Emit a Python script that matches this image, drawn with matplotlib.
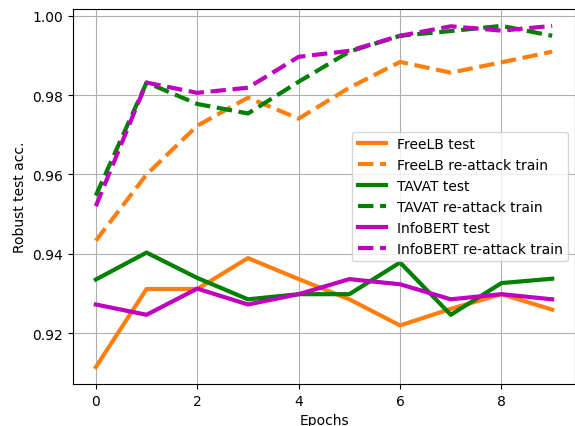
import matplotlib.pyplot as plt
import numpy as np

epochs = np.arange(10)

freelb_test = [0.9114, 0.9311, 0.9311, 0.9389, 0.9336, 0.9285, 0.9219, 0.9261, 0.9298, 0.9259]
freelb_train = [0.9433, 0.9600, 0.9723, 0.9794, 0.9741, 0.9819, 0.9884, 0.9857, 0.9883, 0.9910]
tavat_test = [0.9335, 0.9403, 0.9339, 0.9285, 0.9298, 0.9298, 0.9378, 0.9246, 0.9326, 0.9337]
tavat_train = [0.9547, 0.9832, 0.9778, 0.9754, 0.9834, 0.9910, 0.9950, 0.9962, 0.9975, 0.9950]
infobert_test = [0.9272, 0.9246, 0.9312, 0.9272, 0.9298, 0.9336, 0.9323, 0.9285, 0.9298, 0.9285]
infobert_train = [0.9520, 0.9832, 0.9806, 0.9819, 0.9897, 0.9912, 0.9950, 0.9974, 0.9963, 0.9975]

fig = plt.figure(figsize=(5.75, 4.27), dpi=100)
ax = fig.add_subplot(111)
fig.subplots_adjust(left=0.127, right=1.0, bottom=0.098, top=0.977)

lw = 3
ax.plot(epochs, freelb_test, '-', color='tab:orange', linewidth=lw, label='FreeLB test')
ax.plot(epochs, freelb_train, '--', color='tab:orange', linewidth=lw, label='FreeLB re-attack train')
ax.plot(epochs, tavat_test, '-', color='g', linewidth=lw, label='TAVAT test')
ax.plot(epochs, tavat_train, '--', color='g', linewidth=lw, label='TAVAT re-attack train')
ax.plot(epochs, infobert_test, '-', color='m', linewidth=lw, label='InfoBERT test')
ax.plot(epochs, infobert_train, '--', color='m', linewidth=lw, label='InfoBERT re-attack train')

ax.set_xlabel('Epochs')
ax.set_ylabel('Robust test acc.')
ax.grid(True)
ax.legend(loc='center right')

fig.savefig('out.png', dpi=100)
